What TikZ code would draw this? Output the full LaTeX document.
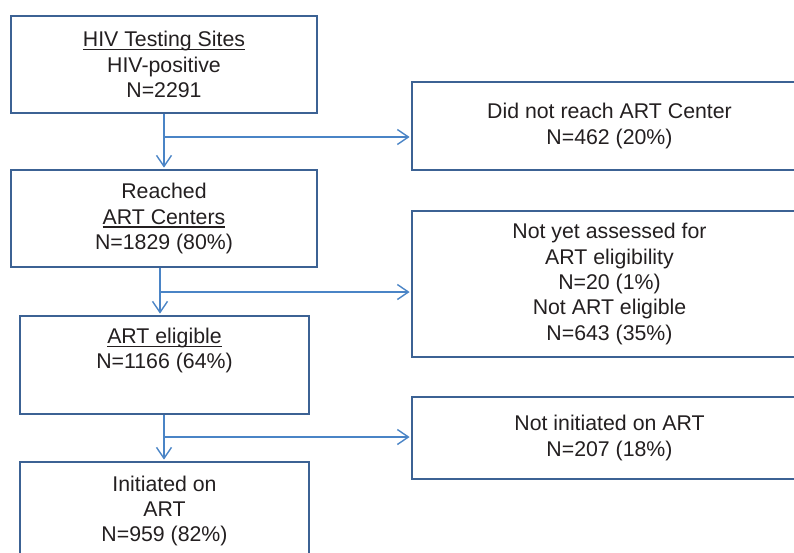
\documentclass[tikz,border=0pt]{standalone}
\usepackage{fontspec}
\setmainfont{Liberation Sans}
\usetikzlibrary{arrows.meta}
\definecolor{boxcol}{RGB}{60,98,148}
\definecolor{arrcol}{RGB}{74,132,198}
\definecolor{txtcol}{RGB}{35,31,32}
\newcommand\myul[1]{\setbox0\hbox{#1}\rlap{\rule[-3.5pt]{\wd0}{1.3pt}}\box0}
\begin{document}
\begin{tikzpicture}[x=1pt,y=-1pt,
  box/.style={draw=boxcol, line width=2.8pt, rectangle, align=center, text=txtcol,
    font=\fontsize{21.3}{25.3}\selectfont, inner sep=0pt},
  arr/.style={draw=arrcol, line width=1.4pt, shorten >=1pt,
    -{Straight Barb[length=11pt,width=15pt]}}]
\useasboundingbox (0,0) rectangle (794,552);
\clip (0,0) rectangle (794,552);
\node[box, minimum width=306pt, minimum height=97pt] (b1) at (164,64.5)
  {\myul{HIV Testing Sites}\\HIV-positive\\N=2291};
\node[box, minimum width=306pt, minimum height=97pt] (b2) at (164,218.5)
  {Reached\\\myul{ART Centers}\\N=1829 (80\%)};
\node[box, minimum width=289pt, minimum height=98pt] (b3) at (164.5,365)
  {\myul{ART eligible}\\N=1166 (64\%)\\ \strut};
\node[box, minimum width=289pt, minimum height=98pt] (b4) at (164.5,511)
  {Initiated on\\ART\\N=959 (82\%)};
\node[box, minimum width=395pt, minimum height=88pt] (r1) at (609.5,126)
  {Did not reach ART Center\\N=462 (20\%)};
\node[box, minimum width=395pt, minimum height=146pt] (r2) at (609.5,284)
  {Not yet assessed for\\ART eligibility\\N=20 (1\%)\\Not ART eligible\\N=643 (35\%)};
\node[box, minimum width=395pt, minimum height=82pt] (r3) at (609.5,438)
  {Not initiated on ART\\N=207 (18\%)};
\coordinate (j1) at (164,137);
\coordinate (j2) at (160,292);
\coordinate (j3) at (164,437);
\draw[arr] (b1.south -| j1) -- (b2.north -| j1);
\draw[arr] (j1) -- (r1.west |- j1);
\draw[arr] (b2.south -| j2) -- (b3.north -| j2);
\draw[arr] (j2) -- (r2.west |- j2);
\draw[arr] (b3.south -| j3) -- (b4.north -| j3);
\draw[arr] (j3) -- (r3.west |- j3);
\end{tikzpicture}
\end{document}
